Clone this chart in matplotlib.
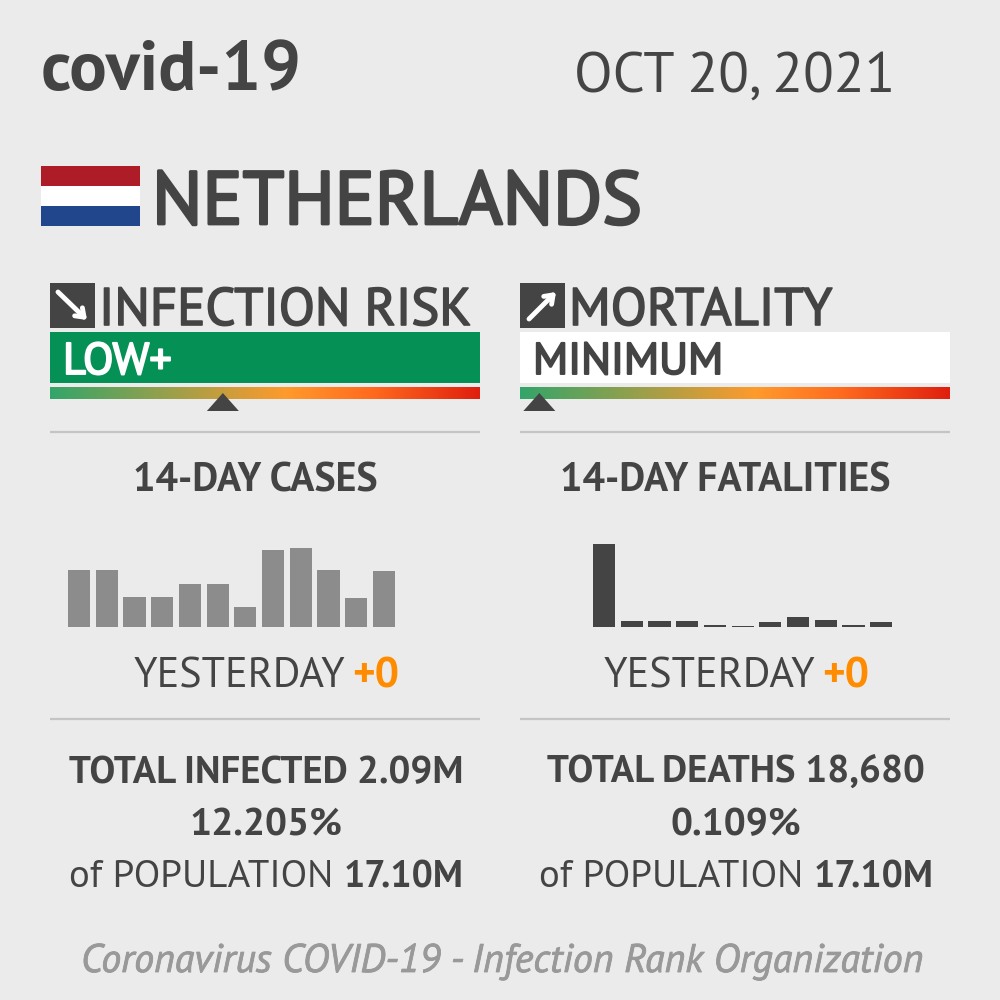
import matplotlib.pyplot as plt
import matplotlib.patheffects as pe
from matplotlib.colors import LinearSegmentedColormap
from matplotlib.patches import Rectangle, Polygon
import numpy as np

plt.rcParams["font.family"] = ["PT Sans", "Roboto", "DejaVu Sans"]

BG = "#ebebeb"
DARK = "#444444"
MID = "#8c8c8c"
ORANGE = "#ff8c00"
LIGHT = "#999999"

# bar heights
cases_14d = [57.3, 57.3, 29.7, 30, 43, 43, 19.7, 77, 79.3, 56.7, 28.7, 56]
deaths_14d = [82.7, 6, 5.7, 5.7, 1.7, 1, 4.7, 9.7, 6.7, 2.3, 4.7]

risk_pos = 0.402  # marker position on the risk scale
mortality_pos = 0.045


def heavy(color, w=1.0):
    return [pe.withStroke(linewidth=w, foreground=color)]


fig = plt.figure(figsize=(10, 10), dpi=100, facecolor=BG)

# main canvas in pixels, y going down
ax = fig.add_axes([0, 0, 1, 1])
ax.set_xlim(0, 1000)
ax.set_ylim(1000, 0)
ax.axis("off")

ax.text(41, 90, "covid-19", fontsize=50.5, fontweight="bold", color=DARK, va="baseline")
ax.text(895, 92, "OCT 20, 2021", fontsize=40.7, color=DARK, ha="right", va="baseline")

# flag
ax.add_patch(Rectangle((41, 166), 99, 20, color="#ae1c28", lw=0))
ax.add_patch(Rectangle((41, 186), 99, 20, color="white", lw=0))
ax.add_patch(Rectangle((41, 206), 99, 20, color="#21468b", lw=0))
ax.text(152, 224, "NETHERLANDS", fontsize=54, color=DARK, va="baseline",
        path_effects=heavy(DARK, 2.0))

# risk gradient
grad = LinearSegmentedColormap.from_list(
    "risk", [(0, "#33a56a"), (0.55, "#ff9a2c"), (0.75, "#ff6a1e"), (1, "#e01f0e")]
)
ramp = np.linspace(0, 1, 256).reshape(1, -1)


def panel(x0, title, level, level_bg, level_fg, pos, arrow_from, arrow_to):
    x1 = x0 + 430
    ax.add_patch(Rectangle((x0, 283), 45, 45, color=DARK, lw=0))
    ax.annotate(
        "", xy=arrow_to, xytext=arrow_from,
        arrowprops=dict(arrowstyle="->,head_length=0.55,head_width=0.4", color="white", lw=3.5,
                        shrinkA=0, shrinkB=0),
    )
    ax.text(x0 + 49, 325, title, fontsize=38, color=DARK, va="baseline",
            path_effects=heavy(DARK, 1.2))
    ax.add_patch(Rectangle((x0, 332), 430, 51, color=level_bg, lw=0))
    ax.text(x0 + 13, 374, level, fontsize=32, color=level_fg, va="baseline",
            path_effects=heavy(level_fg, 1.4))
    ax.imshow(ramp, cmap=grad, extent=(x0, x1, 399, 387), aspect="auto", zorder=2)
    mx = x0 + pos * 430
    ax.add_patch(Polygon([(mx - 16, 411), (mx + 16, 411), (mx, 393)], color=DARK, lw=0, zorder=3))
    ax.plot([x0, x1], [432, 432], color="#c4c4c4", lw=1.6, solid_capstyle="butt")
    ax.plot([x0, x1], [719, 719], color="#c4c4c4", lw=1.6, solid_capstyle="butt")


panel(50, "INFECTION RISK", "LOW+", "#059055", "white", risk_pos, (58, 292), (87, 320))
panel(520, "MORTALITY", "MINIMUM", "white", DARK, mortality_pos, (529, 319), (556, 292))
ax.set_xlim(0, 1000)
ax.set_ylim(1000, 0)

# middle + bottom text
for cx, head, yest_x, total, pct, pop_x in [
    (255.5, "14-DAY CASES", 133.5, "TOTAL INFECTED 2.09M", "12.205%", 69),
    (725, "14-DAY FATALITIES", 603.5, "TOTAL DEATHS 18,680", "0.109%", 539),
]:
    ax.text(cx, 492, head, fontsize=28.7, fontweight="bold", color=DARK, ha="center", va="baseline")
    ax.text(yest_x, 687, "YESTERDAY", fontsize=30.3, color=DARK, va="baseline")
    ax.text(yest_x + 218.5, 687, "+0", fontsize=31, fontweight="bold", color=ORANGE, va="baseline")
    ax.text(cx + 11, 783, total, fontsize=27.9, fontweight="bold", color=DARK, ha="center", va="baseline")
    ax.text(cx + 10.5, 835, pct, fontsize=28.1, fontweight="bold", color=DARK, ha="center", va="baseline")
    ax.text(pop_x, 887, "of POPULATION", fontsize=28, color=DARK, va="baseline")
    ax.text(pop_x + 275, 887, "17.10M", fontsize=27, fontweight="bold", color=DARK, va="baseline")

ax.text(502.5, 972, "Coronavirus COVID-19 - Infection Rank Organization", fontsize=28.7,
        fontstyle="italic", color=LIGHT, ha="center", va="baseline", path_effects=heavy(LIGHT, 0.6))


def bars(left_px, values, color):
    slot = 27.7
    bx = fig.add_axes([left_px / 1000, 1 - 627 / 1000, slot * len(values) / 1000, 90 / 1000])
    bx.bar(np.arange(len(values)), values, width=0.8, color=color, lw=0)
    bx.set_xlim(-0.5, len(values) - 0.5)
    bx.set_ylim(0, 90)
    bx.axis("off")


bars(65.3, cases_14d, MID)
bars(590.3, deaths_14d, DARK)

fig.savefig("out.png", dpi=100, facecolor=BG)
